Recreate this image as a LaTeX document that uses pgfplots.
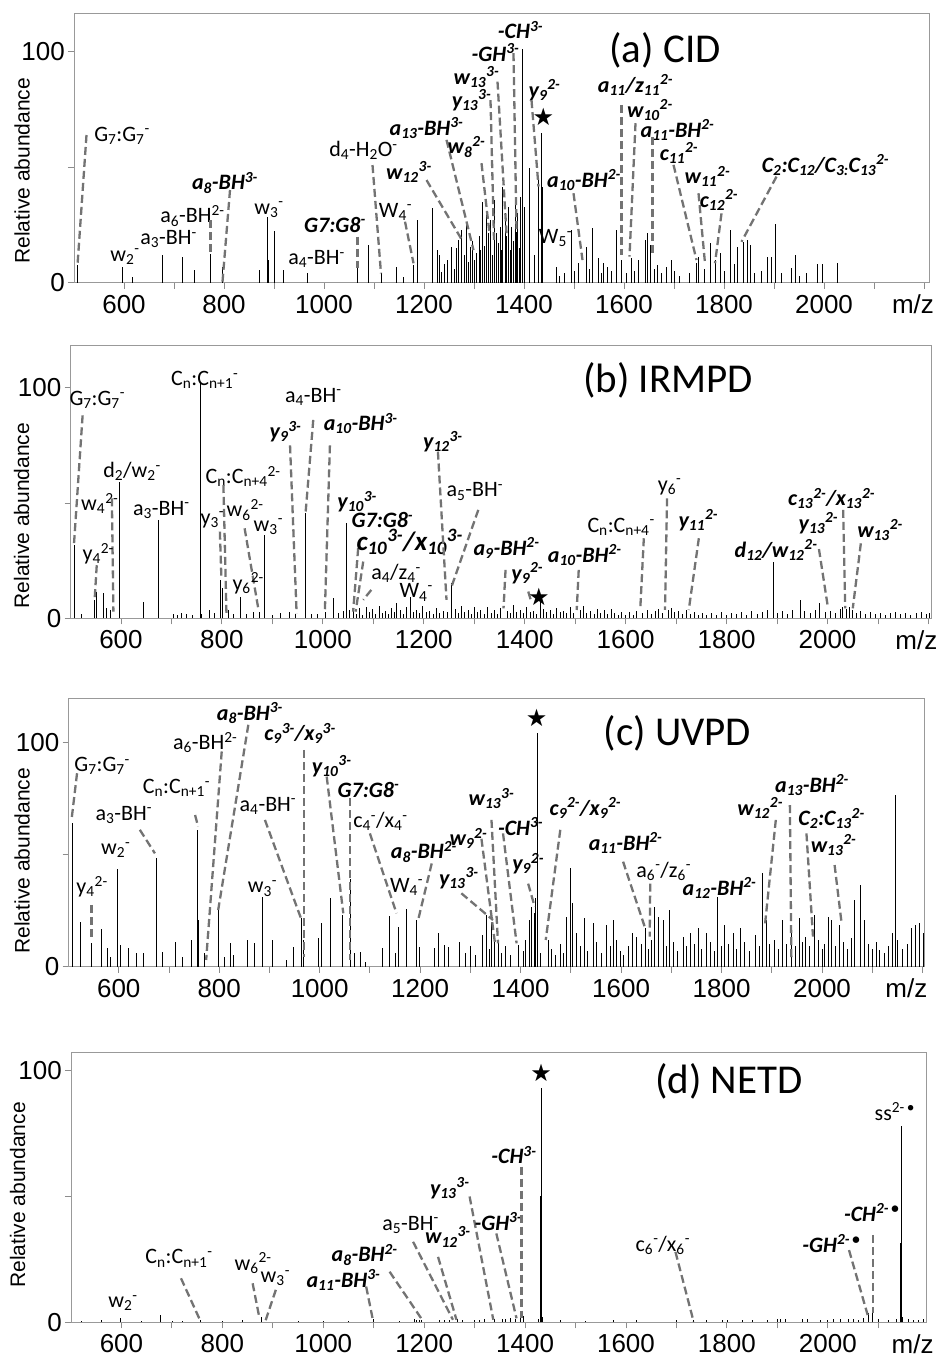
\documentclass[border=0pt]{standalone}
\usepackage{pgfplots}
\pgfplotsset{compat=1.18}
\usepackage{fontspec}
\setmainfont{Carlito}
\newfontfamily\arialf{Liberation Sans}
\newfontfamily\symf{DejaVu Sans}
\newcommand\Sb[1]{\textsubscript{#1}}
\newcommand\Sp[1]{\textsuperscript{#1}}
\tikzset{
 lab/.style={font=\fontsize{22}{24}\selectfont, inner sep=0pt},
 blab/.style={font=\fontsize{22}{24}\selectfont\bfseries\itshape, inner sep=0pt},
 ttl/.style={font=\fontsize{41}{44}\selectfont, inner sep=0pt},
 ldr/.style={draw=black!55, line width=2.3pt, dash pattern=on 8pt off 4pt},
 star/.style={font=\symf\fontsize{24}{24}\selectfont, inner sep=0pt},
 ylab/.style={rotate=90, font=\arialf\fontsize{21}{22}\selectfont, inner sep=0pt},
 mz/.style={font=\arialf\fontsize{26}{26}\selectfont, anchor=north, inner sep=0pt, yshift=-12pt},
}
\pgfplotsset{
 spec/.style={
  scale only axis, clip=false, anchor=south west,
  xmin=500, ymin=0,
  xtick={600,800,...,2000}, minor xtick={700,900,...,2100,2200},
  ytick={0,100}, minor ytick={50},
  tick pos=left, tick align=outside,
  major tick length=6pt, minor tick length=6pt,
  every tick/.style={color=black!45, line width=0.9pt},
  axis line style={color=black!40, line width=0.9pt},
  tick label style={font=\arialf\fontsize{26}{26}\selectfont},
  xticklabel style={inner sep=0pt, yshift=-6pt},
  yticklabel style={inner sep=0pt, xshift=-3pt},
  /pgf/number format/assume math mode=true,
  /pgf/number format/1000 sep={},
 },
 pk/.style={ycomb, mark=none, black, line width=0.7pt},
}
\begin{document}
\begin{tikzpicture}
\useasboundingbox (0pt,0pt) rectangle (941pt,1359pt);
% ---------------- (a) CID
\begin{axis}[spec, at={(74pt,1076.3pt)}, width=855pt, height=269.7pt, xmax=2210, ymax=116.7]
\addplot[pk] coordinates {(506.7,7.6) (597,6.9) (617,2.6) (677,12) (717,11.3) (740,5.5) (773,12.4) (797,6.9) (871,5.5) (887,28.3) (889,9.8) (901,22.4) (918,5.5) (967,4) (1067,6.2) (1088,16.3) (1114,4) (1145,6.9) (1159,2.6) (1179,7.6) (1187,27.1) (1217,32.2) (1227,14.1) (1231,12) (1235,4.8) (1240,8) (1247,10) (1255,15.6) (1260,6) (1265,14.9) (1269,18.5) (1275,22.8) (1280,12) (1285,25.7) (1288,9) (1292,15.6) (1297,18) (1300,10) (1305,12.7) (1310,20) (1313,14) (1317,34.8) (1320,16) (1324,30) (1329,21.4) (1333,27.1) (1336,12) (1340,35.8) (1345,21.4) (1348,17) (1352,24.2) (1355,14) (1357,41.6) (1362,30) (1365,20) (1369,32.9) (1372,14) (1375,24.2) (1378,18) (1382,35.8) (1385,22) (1387,30) (1390,15) (1393,37.2) (1397,101) (1401,32.9) (1411,49.5) (1420,12) (1429,45) (1434,64.6) (1437,41.6) (1465,6.9) (1470,3) (1480,4) (1495,22.8) (1500,5) (1509,8.4) (1524,15.6) (1530,6) (1537,23.5) (1549,10.5) (1555,4) (1559,8.4) (1567,6.9) (1575,5) (1585,22.8) (1595,9.8) (1605,4) (1615,10.5) (1620,5) (1629,9.8) (1643,18.5) (1647,21.4) (1652,16.3) (1660,6) (1667,7.6) (1675,4) (1685,6.9) (1694,9.8) (1700,5) (1710,3) (1730,4) (1744,8.4) (1749,11.3) (1760,6) (1772,17) (1782,9.8) (1792,12.7) (1800,5) (1812,22.8) (1820,8) (1827,15.6) (1839,17.7) (1847,18.5) (1852,16.3) (1860,4) (1875,5) (1887,11.3) (1895,11.3) (1902,25.4) (1915,4) (1935,6.2) (1943,12) (1950,3) (1965,4) (1987,8.1) (1997,8.1) (2027,8.4)};
\node[xshift=-52pt, ylab] at (500,48.4) {Relative abundance};
\node[mz] at (2178,0) {m/z};
\node[ttl] at (1682,100.7) {(a) CID};
\node[lab] at (596,63.5) {G\Sb{7}:G\Sb{7}\Sp{-}};
\draw[ldr] (525,63.9) -- (507,7.6);
\node[lab] at (602,11.3) {w\Sb{2}\Sp{-}};
\node[lab] at (689,18.8) {a\Sb{3}-BH\Sp{-}};
\node[lab] at (737,28.9) {a\Sb{6}-BH\Sp{2-}};
\draw[ldr] (773,27.1) -- (773,12.7);
\node[blab] at (802,43.3) {a\Sb{8}-BH\Sp{3-}};
\draw[ldr] (812,40.1) -- (797,0.4);
\node[lab] at (890,31.7) {w\Sb{3}\Sp{-}};
\node[lab] at (985,10.1) {a\Sb{4}-BH\Sp{-}};
\node[blab] at (1022,25) {G7:G8\Sp{-}};
\draw[ldr] (1067,19.9) -- (1067,6.2);
\node[lab] at (1079,57.1) {d\Sb{4}-H\Sb{2}O\Sp{-}};
\draw[ldr] (1097,50.9) -- (1114,4);
\node[lab] at (1143,30.7) {W\Sb{4}\Sp{-}};
\draw[ldr] (1162,26.4) -- (1179,8.4);
\node[blab] at (1170,48) {w\Sb{12}\Sp{3-}};
\draw[ldr] (1205,44.4) -- (1275,18.8);
\node[blab] at (1205,66.8) {a\Sb{13}-BH\Sp{3-}};
\draw[ldr] (1245,61.8) -- (1299,14.1);
\node[blab] at (1285,58.9) {w\Sb{8}\Sp{2-}};
\draw[ldr] (1315,51.7) -- (1331,21.4);
\node[blab] at (1295,79) {y\Sb{13}\Sp{3-}};
\draw[ldr] (1333,79) -- (1340,18.5);
\node[blab] at (1305,89) {w\Sb{13}\Sp{3-}};
\draw[ldr] (1347,87) -- (1365,21.4);
\node[blab] at (1343,99.6) {-GH\Sp{3-}};
\draw[ldr] (1379,99.3) -- (1385,22.8);
\node[blab] at (1393,109.4) {-CH\Sp{3-}};
\node[blab] at (1441,83.4) {y\Sb{9}\Sp{2-}};
\draw[ldr] (1415,79) -- (1429,41.6);
\node[star] at (1439,71.9) {★};
\node[blab] at (1520,44.4) {a\Sb{10}-BH\Sp{2-}};
\draw[ldr] (1499,38.7) -- (1517,9.8);
\node[lab] at (1463,19.2) {W\Sb{5}\Sp{-}};
\node[blab] at (1623,85.6) {a\Sb{11}/z\Sb{11}\Sp{2-}};
\draw[ldr] (1595,76.9) -- (1595,12);
\node[blab] at (1652,74.7) {w\Sb{10}\Sp{2-}};
\draw[ldr] (1623,69) -- (1611,11.3);
\node[blab] at (1707,66) {a\Sb{11}-BH\Sp{2-}};
\draw[ldr] (1657,63) -- (1657,12.7);
\node[blab] at (1710,56) {c\Sb{11}\Sp{2-}};
\draw[ldr] (1699,51) -- (1745,9.8);
\node[blab] at (1767,46) {w\Sb{11}\Sp{2-}};
\draw[ldr] (1749,38.7) -- (1762,8.4);
\node[blab] at (1790,35.8) {c\Sb{12}\Sp{2-}};
\draw[ldr] (1795,30) -- (1782,8.4);
\node[blab] at (2003,51) {C\Sb{2}:C\Sb{12}/C\Sb{3:}C\Sb{13}\Sp{2-}};
\draw[ldr] (1905,45.9) -- (1835,17.7);
\end{axis}
% ---------------- (b) IRMPD
\begin{axis}[spec, at={(70.5pt,740.7pt)}, width=861pt, height=273.3pt, xmax=2206, ymax=118.5]
\addplot[pk] coordinates {(507,31.8) (508,8.7) (522,2) (547,7.9) (552,11.6) (565,10.8) (572,4.3) (578,3.6) (597,59.3) (645,7.2) (675,42.6) (704,2) (712,1.5) (720,2.2) (730,2.0) (742,1.4) (756.4,101.9) (758,31.8) (760,1.8) (775,3.6) (785,2.5) (796,16.6) (801,13) (812,3.6) (822,2.0) (837,9.4) (848,1.8) (862,2.9) (875,2.9) (885,36.1) (900,1.5) (915,2.2) (933,2.9) (945,1.8) (966,45.5) (977,2) (990,2.0) (1004,2.9) (1020,8.7) (1030,2.4) (1040,3.0) (1047,41.2) (1052,3.6) (1060,3.1) (1066,2.0) (1073,4.5) (1079,1.6) (1086,5) (1092,2.8) (1098,3.9) (1104,1.8) (1111,5.2) (1117,2.4) (1123,3.3) (1130,1.9) (1136,4.4) (1142,2.6) (1146,6.5) (1153,3.7) (1159,1.7) (1165,4.9) (1174,9.4) (1180,2.9) (1186,3.6) (1192,2.1) (1198,5.5) (1205,2.7) (1211,3.2) (1218,1.8) (1224,4.3) (1231,2.5) (1238,3.1) (1246,2.9) (1255,15.2) (1262,4.0) (1268,2.2) (1275,5.3) (1281,2.6) (1288,3.4) (1294,1.9) (1300,4.7) (1307,2.8) (1313,3.5) (1320,2.0) (1326,5.0) (1333,2.5) (1340,3.8) (1346,1.7) (1352,4.6) (1365,3.0) (1371,2.2) (1378,5.6) (1384,2.7) (1391,3.4) (1397,2.1) (1404,4.8) (1411,2.9) (1418,3.3) (1424,2.0) (1430,7.2) (1437,4.1) (1443,2.6) (1450,3.7) (1456,1.9) (1463,4.5) (1470,2.8) (1476,3.2) (1483,2.1) (1490,4.9) (1497,2.4) (1510,3.6) (1516,5.4) (1523,2.3) (1530,3.1) (1537,1.8) (1543,4.2) (1550,2.5) (1557,3.4) (1564,1.7) (1571,3.9) (1578,2.2) (1585,1.5) (1592,2.8) (1600,1.4) (1608,2.9) (1615,1.6) (1622,3.3) (1634,2.4) (1642,3.8) (1650,2.0) (1658,3.1) (1665,4.2) (1672,2.3) (1684,3.5) (1690,4.6) (1697,2.7) (1704,3.2) (1712,2.0) (1720,3.7) (1728,1.8) (1736,2.9) (1744,1.6) (1752,2.5) (1760,1.4) (1770,2.2) (1780,1.5) (1790,2.6) (1800,1.3) (1810,2.1) (1820,1.7) (1830,2.8) (1840,1.6) (1850,3.0) (1860,1.9) (1870,2.7) (1880,3.4) (1892,24.6) (1900,2.2) (1910,3.1) (1920,2.0) (1930,3.6) (1946,8) (1955,3.2) (1965,2.1) (1975,3.5) (1984,6.5) (1995,2.8) (2005,3.3) (2015,2.2) (2025,3.9) (2030,4.8) (2037,4) (2043,5) (2050,3.6) (2057,2.5) (2065,3.1) (2075,2.0) (2085,2.7) (2095,1.8) (2105,2.4) (2115,1.6) (2125,2.2) (2135,2.6) (2145,1.7) (2155,2.3) (2165,1.5) (2175,2.1) (2185,2.8) (2195,1.9) (2202,2.5)};
\node[xshift=-49pt, ylab] at (500,44.5) {Relative abundance};
\node[mz] at (2176,0) {m/z};
\node[ttl] at (1684,103.3) {(b) IRMPD};
\node[lab] at (553,94.7) {G\Sb{7}:G\Sb{7}\Sp{-}};
\draw[ldr] (524,88) -- (507,32.5);
\node[lab] at (622,63.6) {d\Sb{2}/w\Sb{2}\Sp{-}};
\node[lab] at (558,49.8) {w\Sb{4}\Sp{2-}};
\draw[ldr] (582,52) -- (585,2.9);
\node[lab] at (555,28) {y\Sb{4}\Sp{2-}};
\draw[ldr] (552,23) -- (548,8.7);
\node[lab] at (680,47) {a\Sb{3}-BH\Sp{-}};
\node[lab] at (766,103.3) {C\Sb{n}:C\Sb{n+1}\Sp{-}};
\node[lab] at (842,61.4) {C\Sb{n}:C\Sb{n+4}\Sp{2-}};
\draw[ldr] (803,57.8) -- (809,2.2);
\node[lab] at (781,42.6) {y\Sb{3}\Sp{-}};
\draw[ldr] (796,37.6) -- (799,17.3);
\node[lab] at (846,47) {w\Sb{6}\Sp{2-}};
\draw[ldr] (845,39) -- (872,4.3);
\node[lab] at (892,39.7) {w\Sb{3}\Sp{-}};
\node[lab] at (852,15.2) {y\Sb{6}\Sp{2-}};
\node[blab] at (926,81) {y\Sb{9}\Sp{3-}};
\draw[ldr] (935,75) -- (948,2.2);
\node[lab] at (981,96) {a\Sb{4}-BH\Sp{-}};
\draw[ldr] (981,86) -- (966,46.3);
\node[blab] at (1075,84.5) {a\Sb{10}-BH\Sp{3-}};
\draw[ldr] (1014,75) -- (1004,2.9);
\node[blab] at (1068,50.6) {y\Sb{10}\Sp{3-}};
\node[blab] at (1118,42.6) {G7:G8\Sp{-}};
\draw[ldr] (1070,30.4) -- (1060,2.9);
\node[blab, font=\fontsize{27}{28}\selectfont\bfseries\itshape] at (1172,33) {c\Sb{10}\Sp{3-}/x\Sb{10}\Sp{3-}};
\draw[ldr] (1080,24.6) -- (1065,2.9);
\node[lab] at (1145,19.4) {a\Sb{4}/z\Sb{4}\Sp{-}};
\draw[ldr] (1096,12.3) -- (1080,8);
\node[lab] at (1185,11.2) {W\Sb{4}\Sp{-}};
\node[blab] at (1238,76.6) {y\Sb{12}\Sp{3-}};
\draw[ldr] (1228,72.3) -- (1245,8);
\node[lab] at (1301,55) {a\Sb{5}-BH\Sp{-}};
\draw[ldr] (1308,47) -- (1255,13.7);
\node[blab] at (1364,30.4) {a\Sb{9}-BH\Sp{2-}};
\draw[ldr] (1362,21) -- (1358,4.3);
\node[blab] at (1405,19.5) {y\Sb{9}\Sp{2-}};
\draw[ldr] (1407,11.6) -- (1413,7.2);
\node[star] at (1428,9.4) {★};
\node[blab] at (1519,27.4) {a\Sb{10}-BH\Sp{2-}};
\draw[ldr] (1507,21) -- (1503,3.6);
\node[lab] at (1591,39.7) {C\Sb{n}:C\Sb{n+4}\Sp{-}};
\draw[ldr] (1636,34.7) -- (1629,4.3);
\node[lab] at (1687,57) {y\Sb{6}\Sp{-}};
\draw[ldr] (1682,52) -- (1678,3.6);
\node[blab] at (1744,42.6) {y\Sb{11}\Sp{2-}};
\draw[ldr] (1745,34.7) -- (1725,3.6);
\node[blab] at (1898,29.6) {d\Sb{12}/w\Sb{12}\Sp{2-}};
\draw[ldr] (1983,30) -- (2000,5.8);
\node[blab] at (1982,41.2) {y\Sb{13}\Sp{2-}};
\node[blab] at (2008,52) {c\Sb{13}\Sp{2-}/x\Sb{13}\Sp{2-}};
\draw[ldr] (2031,47) -- (2035,4.3);
\node[blab] at (2104,38.3) {w\Sb{13}\Sp{2-}};
\draw[ldr] (2066,32.5) -- (2050,4.3);
\end{axis}
% ---------------- (c) UVPD
\begin{axis}[spec, at={(68.5pt,392.3pt)}, width=855.5pt, height=268.4pt, xmax=2203, ymax=119.6]
\addplot[pk] coordinates {(507.6,63.9) (524,20) (546,10.4) (565,17) (578,8.2) (584,4.5) (597,43.4) (604,9.7) (619,8.2) (636,5.9) (649,6.2) (675.5,48.3) (687,6.7) (713,11.2) (727,4.5) (745,11.9) (757,60.9) (758.5,20.8) (770,6) (798,25.3) (811,4.5) (823,10.4) (828,5.2) (856,11.9) (869,10.4) (886,31.2) (906,11.9) (934,3) (947,8.9) (964,21.6) (967,11.9) (997,12.6) (1004,19.3) (1022,30.5) (1045,23) (1062,38.9) (1069,6) (1080,6.7) (1091,2.2) (1124,8.2) (1138,22.6) (1150,6) (1156,17.8) (1173,25.6) (1193,20.8) (1199,8.9) (1229,8.2) (1236,14.9) (1249,9.7) (1256,8.9) (1278,11.2) (1290,6) (1300,9) (1310,5) (1324,14) (1332,23) (1337,8) (1342,19.3) (1348,12) (1355,10.4) (1362,6) (1370,9) (1380,5) (1395,9.7) (1405,7) (1410,12) (1418,20.8) (1422,26.7) (1428,23.8) (1430,30.5) (1433,104) (1440,6) (1455,11.9) (1462,8) (1470,5) (1480,10) (1486,6) (1491,22.3) (1498,43.8) (1503,28.2) (1511,14.9) (1518,9) (1526,21.6) (1533,7) (1544,19.3) (1550,11) (1560,6) (1571,18.6) (1578,9) (1584,20.8) (1590,12) (1598,7) (1605,5) (1615,9) (1622,14.9) (1631,13.4) (1640,10) (1649,17.1) (1655,8) (1661,12) (1667,26.8) (1675,22.3) (1684,20.8) (1690,9) (1697,25.3) (1705,11) (1712,7) (1723,13.4) (1730,9) (1737,14.9) (1745,10) (1753,17.1) (1760,8) (1770,14.9) (1777,11) (1785,7) (1792,31.2) (1800,9) (1806,18.6) (1814,10) (1823,14.9) (1830,8) (1838,17.1) (1845,11) (1855,7) (1868,14.1) (1875,9) (1881,41.6) (1889,20.8) (1895,10) (1905,12) (1913,8) (1921,20.8) (1928,10) (1939,17.8) (1946,9) (1954,21.6) (1960,11) (1966,13.4) (1975,9) (1984,23) (1992,12) (2000,8) (2005,10) (2012,22.3) (2019,20.8) (2026,9) (2035,18.6) (2042,11) (2050,8) (2058,13) (2065,29.7) (2076,36.4) (2085,20.8) (2092,10) (2100,8) (2108,11) (2115,7.4) (2125,6) (2132,9) (2140,14.9) (2145,76.5) (2150,12) (2160,8) (2170,10) (2178,17.1) (2186,18.6) (2193,19.3) (2201,14.9)};
\node[xshift=-46.5pt, ylab] at (500,47.2) {Relative abundance};
\node[mz] at (2168,0) {m/z};
\node[ttl] at (1712,104) {(c) UVPD};
\node[lab] at (567,89.4) {G\Sb{7}:G\Sb{7}\Sp{-}};
\draw[ldr] (517,86.2) -- (506,65.4);
\node[lab] at (547,35.7) {y\Sb{4}\Sp{2-}};
\draw[ldr] (546,27.5) -- (546,11.9);
\node[lab] at (594,52) {w\Sb{2}\Sp{-}};
\node[lab] at (610,67.6) {a\Sb{3}-BH\Sp{-}};
\draw[ldr] (642,61) -- (672,50.5);
\node[lab] at (715,79.5) {C\Sb{n}:C\Sb{n+1}\Sp{-}};
\draw[ldr] (752,67.6) -- (758,62.4);
\node[lab] at (772,99.9) {a\Sb{6}-BH\Sp{2-}};
\draw[ldr] (805,95.9) -- (774,3);
\node[blab] at (861,113) {a\Sb{8}-BH\Sp{3-}};
\draw[ldr] (858,107.8) -- (798,25.3);
\node[lab] at (897,71.6) {a\Sb{4}-BH\Sp{-}};
\draw[ldr] (891,65.4) -- (964,20.8);
\node[lab] at (886,34.9) {w\Sb{3}\Sp{-}};
\node[blab] at (961,104) {c\Sb{9}\Sp{3-}/x\Sb{9}\Sp{3-}};
\draw[ldr] (969,96.6) -- (969,4.5);
\node[blab] at (1024,89.4) {y\Sb{10}\Sp{3-}};
\draw[ldr] (1014,84.7) -- (1047,23.8);
\node[blab] at (1097,78.8) {G7:G8\Sp{-}};
\draw[ldr] (1060,75) -- (1060,3);
\node[lab] at (1121,64.7) {c\Sb{4}\Sp{-}/x\Sb{4}\Sp{-}};
\draw[ldr] (1100,59.4) -- (1153,23.8);
\node[lab] at (1173,35.7) {W\Sb{4}\Sp{-}};
\node[blab] at (1207.5,51.3) {a\Sb{8}-BH\Sp{2-}};
\draw[ldr] (1223,46) -- (1196,20.8);
\node[blab] at (1277,39.4) {y\Sb{13}\Sp{3-}};
\draw[ldr] (1282,32.7) -- (1345,20.8);
\node[blab] at (1296,57.2) {w\Sb{9}\Sp{2-}};
\draw[ldr] (1322,57) -- (1349,10.4);
\node[blab] at (1342,75) {w\Sb{13}\Sp{3-}};
\draw[ldr] (1342,65.4) -- (1355,10.4);
\node[blab] at (1400,62.4) {-CH\Sp{3-}};
\draw[ldr] (1365,59.4) -- (1392,10.4);
\node[blab] at (1415,46) {y\Sb{9}\Sp{2-}};
\draw[ldr] (1415,37) -- (1428,26.7);
\node[star] at (1432,110.7) {★};
\node[blab] at (1529,70.6) {c\Sb{9}\Sp{2-}/x\Sb{9}\Sp{2-}};
\draw[ldr] (1479,61) -- (1450,11.9);
\node[blab] at (1609,55) {a\Sb{11}-BH\Sp{2-}};
\draw[ldr] (1604,46.8) -- (1647,17.8);
\node[lab] at (1685,42.4) {a\Sb{6}\Sp{-}/z\Sb{6}\Sp{-}};
\draw[ldr] (1658,37) -- (1657,13.4);
\node[blab] at (1796,35) {a\Sb{12}-BH\Sp{2-}};
\node[blab] at (1877,70.6) {w\Sb{12}\Sp{2-}};
\draw[ldr] (1908,65.4) -- (1886,17.8);
\node[blab] at (1980,81) {a\Sb{13}-BH\Sp{2-}};
\draw[ldr] (1936,72) -- (1939,3);
\node[blab] at (2019,66) {C\Sb{2}:C\Sb{13}\Sp{2-}};
\draw[ldr] (1969,59.4) -- (1982,13.4);
\node[blab] at (2023,54.2) {w\Sb{13}\Sp{2-}};
\draw[ldr] (2025,45.3) -- (2039,19.3);
\end{axis}
% ---------------- (d) NETD
\begin{axis}[spec, at={(71pt,36.7pt)}, width=855.7pt, height=270pt, xmax=2196, ymax=107.3]
\addplot[pk] coordinates {(520,0.5) (560,0.8) (598,1.9) (640,0.6) (678,2.9) (700,0.5) (720,0.7) (756,1) (800,0.6) (840,0.8) (877,2.2) (950,0.5) (1000,0.6) (1050,0.7) (1099,1.2) (1150,0.6) (1180,1.2) (1185,0.9) (1190,1) (1195,1.0) (1230,0.8) (1240,1.1) (1250,0.8) (1265,1.2) (1275,0.9) (1300,1) (1310,1.0) (1320,1.4) (1340,1.2) (1355,1.2) (1360,1.5) (1370,1.6) (1380,1.3) (1390,3.6) (1396,2.5) (1426,1.5) (1431,50) (1432,93) (1434,2) (1470,0.8) (1520,0.7) (1575,1) (1620,0.8) (1700,0.9) (1734,1) (1760,1.0) (1790,0.8) (1800,0.8) (1830,1.1) (1850,1) (1880,0.9) (1900,1.2) (1905,1.5) (1915,1.2) (1950,1.5) (1960,1.3) (1985,1.0) (2000,1) (2010,1.4) (2025,1.2) (2040,1.5) (2050,1.5) (2060,1.1) (2070,1.6) (2081,3.6) (2088,5.6) (2100,1.3) (2120,1.1) (2135,1.5) (2144,31.4) (2145,78) (2148,2) (2160,1.2) (2170,1) (2180,1.0) (2190,1.2)};
\node[xshift=-53.5pt, ylab] at (500,50.6) {Relative abundance};
\node[mz] at (2168,0) {m/z};
\node[ttl] at (1804,95.6) {(d) NETD};
\node[lab] at (603,7.6) {w\Sb{2}\Sp{-}};
\node[lab] at (714,25.4) {C\Sb{n}:C\Sb{n+1}\Sp{-}};
\draw[ldr] (718,17.5) -- (757,0.3);
\node[lab] at (861,23.4) {w\Sb{6}\Sp{2-}};
\draw[ldr] (860,15.5) -- (873,2.2);
\node[lab] at (905,17.5) {w\Sb{3}\Sp{-}};
\draw[ldr] (906,12.9) -- (885,0.3);
\node[blab] at (1040,16.8) {a\Sb{11}-BH\Sp{3-}};
\draw[ldr] (1085,14.2) -- (1099,0.3);
\node[blab] at (1082,26.8) {a\Sb{8}-BH\Sp{2-}};
\draw[ldr] (1131.5,20.1) -- (1194,1.6);
\node[lab] at (1173,38.7) {a\Sb{5}-BH\Sp{-}};
\draw[ldr] (1178,32) -- (1257,1);
\node[blab] at (1247,34) {w\Sb{12}\Sp{3-}};
\draw[ldr] (1227.5,26) -- (1264,1);
\node[blab] at (1250.7,53.2) {y\Sb{13}\Sp{3-}};
\draw[ldr] (1290,50) -- (1337,1);
\node[blab] at (1347,40) {-GH\Sp{3-}};
\draw[ldr] (1343,35.3) -- (1383,1.6);
\node[blab] at (1378,66.5) {-CH\Sp{3-}};
\draw[ldr] (1393,61.9) -- (1393,1.6);
\node[star] at (1432,99) {★};
\node[lab] at (1673,30.7) {c\Sb{6}\Sp{-}/x\Sb{6}\Sp{-}};
\draw[ldr] (1698,28) -- (1734,0.3);
\node[blab] at (2007,31.4) {-GH\Sp{2-\,•}};
\draw[ldr] (2042,28.7) -- (2079,2.9);
\node[blab] at (2087,43.6) {-CH\Sp{2-\,•}};
\draw[ldr] (2089,34.7) -- (2089,3.6);
\node[lab] at (2133,83.7) {ss\Sp{2-\,•}};
\end{axis}
\end{tikzpicture}
\end{document}
